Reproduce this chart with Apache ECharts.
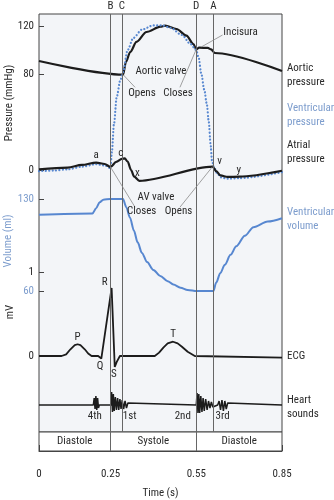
<!DOCTYPE html>
<html>
<head>
<meta charset="utf-8">
<script src="https://cdn.jsdelivr.net/npm/echarts@6/dist/echarts.min.js"></script>
<style>
  html, body { margin: 0; padding: 0; background: #fff; }
  #chart { width: 334px; height: 500px; }
</style>
</head>
<body>
<div id="chart"></div>
<script>
// ---- Cardiac cycle (Wiggers diagram), time in seconds ----
const eventNames = ['B', 'C', 'D', 'A'];
const eventTimes = [0.25, 0.294, 0.55, 0.61];
const phaseNames = ['Diastole', 'Systole', 'Diastole'];
const phaseBounds = [0, 0.25, 0.55, 0.85];
const timeTicks = [0, 0.25, 0.55, 0.85];
const pressureTicks = [0, 80, 120];
const volumeTicks = [60, 130];
const ecgTicks = [0, 1];

// Aortic pressure (mmHg)
const aorticT = [0, 0.294, 0.304, 0.319, 0.341, 0.376, 0.425, 0.441, 0.481, 0.516, 0.54, 0.55, 0.56, 0.59, 0.602, 0.615, 0.85];
const aorticP = [90.8, 79.5, 90, 98.3, 106.7, 115, 119.4, 120.3, 117.5, 111.9, 105, 100.5, 102, 101.7, 100.5, 97.5, 82.5];

// Ventricular pressure (mmHg)
const ventT = [0, 0.05, 0.1, 0.15, 0.2, 0.23, 0.25, 0.255, 0.262, 0.272, 0.284, 0.294, 0.31, 0.33, 0.36, 0.4, 0.43, 0.46, 0.5, 0.53, 0.55, 0.558, 0.568, 0.578, 0.587, 0.594, 0.6, 0.605, 0.612, 0.625, 0.64, 0.66, 0.7, 0.85];
const ventP = [-1, -0.5, 0.5, 2.8, 4.8, 3.8, 1.5, 15, 38, 61, 74.5, 81.5, 100, 110, 117, 120.5, 120.5, 118.5, 112.5, 105, 100, 94, 80, 67, 55, 40, 22, 8, 2, -3.5, -6.5, -7.2, -6.8, -1.8];

// Atrial pressure (mmHg)
const atrialT = [0, 0.1, 0.15, 0.2, 0.23, 0.25, 0.27, 0.29, 0.3, 0.31, 0.322, 0.333, 0.351, 0.607, 0.62, 0.635, 0.66, 0.7, 0.85];
const atrialP = [0.6, 2, 4.2, 6.2, 5, 2.5, 6.7, 9.2, 9.7, 7, 0, -5.6, -9, 2.8, -1, -4.5, -5.8, -5.5, -0.6];

// Ventricular volume (ml)
const volT = [0, 0.187, 0.2, 0.212, 0.225, 0.25, 0.294, 0.305, 0.318, 0.332, 0.345, 0.36, 0.378, 0.4, 0.424, 0.45, 0.47, 0.495, 0.52, 0.552, 0.61, 0.62, 0.634, 0.65, 0.67, 0.69, 0.72, 0.75, 0.8, 0.85];
const volV = [118, 119, 123, 127.5, 129.5, 130, 130, 124, 116, 106, 97, 89, 82, 76, 71.5, 67.5, 65, 62.5, 60.8, 60, 60, 66.5, 73.5, 80, 87.5, 94, 102, 108.5, 112.8, 115.3];

// ECG (mV)
const ecgT = [0, 0.079, 0.095, 0.11, 0.125, 0.135, 0.145, 0.16, 0.172, 0.184, 0.207, 0.218, 0.224, 0.254, 0.265, 0.272, 0.283, 0.405, 0.42, 0.435, 0.45, 0.469, 0.485, 0.5, 0.52, 0.545, 0.85];
const ecgV = [0, 0, 0.02, 0.08, 0.13, 0.14, 0.13, 0.08, 0.03, 0, 0, -0.03, -0.05, 0.81, -0.13, -0.07, 0, 0, 0.04, 0.1, 0.15, 0.17, 0.15, 0.11, 0.05, 0, -0.02];

// Heart sounds (relative amplitude)
const soundT = [0, 0.19, 0.193, 0.196, 0.199, 0.202, 0.205, 0.208, 0.211,
  0.252, 0.254, 0.257, 0.26, 0.263, 0.267, 0.271, 0.275, 0.279, 0.283, 0.287, 0.291, 0.296, 0.301, 0.306, 0.311, 0.315,
  0.55, 0.553, 0.556, 0.559, 0.562, 0.566, 0.57, 0.574, 0.578, 0.583, 0.588, 0.593, 0.598, 0.603, 0.608, 0.612,
  0.625, 0.63, 0.635, 0.64, 0.645, 0.65, 0.655, 0.66, 0.665, 0.85];
const soundV = [0, 0, 7, -4, 9, -5, 7, -3, 0,
  0, 13, -7, 11, -6, 8, -5, 7, -5, 6, -4, 5, -4, 4, -3, 2, 0,
  0, 12, -8, 11, -8, 9, -7, 7, -6, 6, -5, 4, -3, 3, -2, 0,
  0, 4, -5, 5, -6, 4, -4, 2, 0, 0];

// ---- typeface: a narrow, non-bold sans if one is installed ----
function pickFace() {
  const sample = 'Aortic valve Ventricular pressure';
  const target = 132; // width of the sample at 11px in a narrow grotesque
  const c = document.createElement('canvas');
  c.width = 400; c.height = 24;
  const g = c.getContext('2d');
  const width = (font) => { g.font = font; return g.measureText(sample).width; };
  const ink = (font) => {
    g.clearRect(0, 0, c.width, c.height);
    g.font = font; g.fillStyle = '#000'; g.textBaseline = 'middle';
    g.fillText(sample, 2, 12);
    const d = g.getImageData(0, 0, c.width, c.height).data;
    let s = 0;
    for (let i = 3; i < d.length; i += 4) s += d[i];
    return s;
  };
  const faces = [
    ["'Liberation Sans Narrow'", 400], ["'Arial Narrow'", 400],
    ["'Noto Sans SemiCondensed'", 400], ["'Noto Sans Condensed'", 400],
    ["'DejaVu Sans Condensed'", 400], ["'Roboto Condensed'", 400],
    ["'Open Sans SemiCondensed'", 400], ["'Open Sans Condensed'", 300],
    ["Lato", 400], ["Roboto", 400], ["'Liberation Sans'", 400]
  ];
  const ok = [];
  for (const [fam, w] of faces) {
    const a = width(w + ' 11px ' + fam + ', monospace');
    const b = width(w + ' 11px ' + fam + ', serif');
    if (Math.abs(a - b) > 0.01) continue;                 // not installed
    const light = ink(w + ' 11px ' + fam);
    const heavy = ink('700 11px ' + fam);
    if (light > heavy * 0.88) continue;                    // only a bold cut
    ok.push({ family: fam, weight: w, diff: Math.abs(a - target) / target });
  }
  const near = ok.find(f => f.diff < 0.1);
  const best = near || ok.sort((p, q) => p.diff - q.diff)[0] || { family: 'sans-serif', weight: 400 };
  return { family: best.family + ', sans-serif', weight: best.weight };
}
const FACE = pickFace();
const FONT = FACE.family, WEIGHT = FACE.weight;

// ---- layout ----
const INK = '#1c1c1c', TEXT = '#2a2a2a', BLUE = '#5787d0', BLUE_TEXT = '#7d9dcd', RULE = '#666';
const PLOT_TOP = 14, PLOT_BOTTOM = 432, PLOT_LEFT = 39, PLOT_WIDTH = 243;
const txt = (color, extra) => Object.assign({ color: color, fontSize: 11, fontFamily: FONT, fontWeight: WEIGHT }, extra || {});

// Each trace has its own value axis on the shared plot; the range is found from
// two reference values and the pixel rows where they sit.
function axisRange(vA, yA, vB, yB) {
  const k = (yB - yA) / (vB - vA);
  return { min: vA + (PLOT_BOTTOM - yA) / k, max: vA + (PLOT_TOP - yA) / k };
}
const pressureRange = axisRange(0, 170, 120, 26);
const volumeRange = axisRange(60, 291, 130, 199);
const ecgRange = axisRange(0, 356, 1, 272);
const soundRange = axisRange(0, 405, 10, 395);

function valueAxis(range, ticks, color) {
  const show = !!ticks;
  return {
    type: 'value', gridIndex: 0, position: 'left', min: range.min, max: range.max,
    axisLine: { show: false }, splitLine: { show: false },
    axisTick: show ? { show: true, inside: true, length: 5, customValues: ticks, lineStyle: { color: '#444' } } : { show: false },
    axisLabel: show ? txt(color, { show: true, customValues: ticks, margin: 5 }) : { show: false }
  };
}

const zip = (a, b) => a.map((t, i) => [t, b[i]]);
const idx = (arr, t) => arr.indexOf(t);

function pointLabel(coord, text, position, distance, offset) {
  return {
    coord: coord, name: text, symbol: 'circle', symbolSize: 1, itemStyle: { color: 'rgba(0,0,0,0)' },
    label: txt(TEXT, { show: true, position: position, distance: distance, offset: offset || [0, 0], formatter: '{b}' })
  };
}
const markerPoints = (list) => ({ silent: true, symbol: 'circle', symbolSize: 1, animation: false, data: list });

const atrialAt = (t) => [t, atrialP[idx(atrialT, t)]];
const ecgAt = (t) => [t, ecgV[idx(ecgT, t)]];
const aorticAt = (t) => [t, aorticP[idx(aorticT, t)]];

const leader = (a, b) => [{ coord: a }, { coord: b }];
const sideText = (y, text, color) => ({ type: 'text', x: 287, y: y,
  style: { text: text, verticalAlign: 'middle', lineHeight: 14, fill: color, fontSize: 11, fontFamily: FONT, fontWeight: WEIGHT } });
const axisTitle = (x, y, text, color) => ({ type: 'text', x: x, y: y, rotation: Math.PI / 2,
  style: { text: text, align: 'center', verticalAlign: 'middle', fill: color, fontSize: 11, fontFamily: FONT, fontWeight: WEIGHT } });

const option = {
  animation: false,
  textStyle: { fontFamily: FONT, fontWeight: WEIGHT },
  grid: [
    { left: PLOT_LEFT, top: PLOT_TOP, width: PLOT_WIDTH, height: PLOT_BOTTOM - PLOT_TOP,
      show: true, backgroundColor: '#f3f5f8', borderColor: '#444', borderWidth: 1 },
    { left: PLOT_LEFT, top: PLOT_BOTTOM, width: PLOT_WIDTH, height: 20,
      show: true, backgroundColor: '#fff', borderColor: '#444', borderWidth: 1 }
  ],
  xAxis: [
    { type: 'value', gridIndex: 0, min: 0, max: 0.85, show: false },
    { type: 'value', gridIndex: 1, min: 0, max: 0.85, position: 'bottom', offset: 13,
      axisLine: { show: true, lineStyle: { color: '#444', width: 1 } },
      axisTick: { show: true, inside: true, length: 6, customValues: timeTicks, lineStyle: { color: '#444' } },
      axisLabel: txt(TEXT, { customValues: timeTicks, margin: 5 }),
      splitLine: { show: false },
      name: 'Time (s)', nameLocation: 'middle', nameGap: 24,
      nameTextStyle: txt(TEXT) }
  ],
  yAxis: [
    valueAxis(pressureRange, pressureTicks, TEXT),
    valueAxis(volumeRange, volumeTicks, BLUE_TEXT),
    valueAxis(ecgRange, ecgTicks, TEXT),
    valueAxis(soundRange, null),
    { type: 'value', gridIndex: 1, min: 0, max: 1, show: false }
  ],
  series: [
    // event lines B, C, D, A
    { name: 'events', type: 'line', xAxisIndex: 0, yAxisIndex: 0, data: [],
      markLine: { silent: true, symbol: 'none', animation: false,
        lineStyle: { color: RULE, width: 1, type: 'solid' },
        label: txt(TEXT, { show: true, position: 'end', formatter: '{b}', distance: 2 }),
        data: eventNames.map((n, i) => ({ name: n, xAxis: eventTimes[i] })) } },
    // valve annotations
    { name: 'valves', type: 'line', xAxisIndex: 0, yAxisIndex: 0, data: [],
      markLine: { silent: true, symbol: 'none', animation: false,
        lineStyle: { color: '#8a8a8a', width: 0.8, type: 'solid' }, label: { show: false },
        data: [
          leader(aorticAt(0.294), [0.336, 68.9]),
          leader(aorticAt(0.55), [0.493, 68.9]),
          leader([0.569, 102.7], [0.642, 112.5]),
          leader(atrialAt(0.25), [0.336, -31]),
          leader(atrialAt(0.607), [0.493, -31])
        ] },
      markPoint: markerPoints([
        pointLabel([0.4266, 81.9], 'Aortic valve', 'inside', 0),
        pointLabel([0.36, 63.9], 'Opens', 'inside', 0),
        pointLabel([0.486, 63.9], 'Closes', 'inside', 0),
        pointLabel([0.643, 114.4], 'Incisura', 'right', 0),
        pointLabel([0.409, -22.75], 'AV valve', 'inside', 0),
        pointLabel([0.359, -34.75], 'Closes', 'inside', 0),
        pointLabel([0.488, -34.75], 'Opens', 'inside', 0)
      ]) },
    { name: 'Aortic pressure', type: 'line', xAxisIndex: 0, yAxisIndex: 0,
      data: zip(aorticT, aorticP), showSymbol: false, smooth: 0.3, smoothMonotone: 'x',
      lineStyle: { color: INK, width: 2.2 } },
    { name: 'Ventricular pressure', type: 'line', xAxisIndex: 0, yAxisIndex: 0,
      data: zip(ventT, ventP), showSymbol: false, smooth: 0.3, smoothMonotone: 'x',
      lineStyle: { color: BLUE, width: 2.2, type: [0.1, 3.3], cap: 'round' } },
    { name: 'Atrial pressure', type: 'line', xAxisIndex: 0, yAxisIndex: 0,
      data: zip(atrialT, atrialP), showSymbol: false, smooth: 0.3, smoothMonotone: 'x',
      lineStyle: { color: INK, width: 2.2 },
      markPoint: markerPoints([
        pointLabel(atrialAt(0.2), 'a', 'top', 1),
        pointLabel(atrialAt(0.3), 'c', 'top', 0, [-4, 1]),
        pointLabel(atrialAt(0.351), 'x', 'top', 2, [-2, 0]),
        pointLabel(atrialAt(0.607), 'v', 'top', 0, [7, 1]),
        pointLabel(atrialAt(0.66), 'y', 'top', 1, [11, 0])
      ]) },
    { name: 'Ventricular volume', type: 'line', xAxisIndex: 0, yAxisIndex: 1,
      data: zip(volT, volV), showSymbol: false, smooth: 0.3, smoothMonotone: 'x',
      lineStyle: { color: BLUE, width: 2 } },
    { name: 'ECG', type: 'line', xAxisIndex: 0, yAxisIndex: 2,
      data: zip(ecgT, ecgV), showSymbol: false,
      lineStyle: { color: INK, width: 1.8 },
      markPoint: markerPoints([
        pointLabel(ecgAt(0.135), 'P', 'top', 1),
        pointLabel(ecgAt(0.254), 'R', 'top', 0, [-7, 0]),
        pointLabel(ecgAt(0.224), 'Q', 'bottom', 0, [-3, 0]),
        pointLabel(ecgAt(0.265), 'S', 'bottom', 1, [-1, 0]),
        pointLabel(ecgAt(0.469), 'T', 'top', 1)
      ]) },
    { name: 'Heart sounds', type: 'line', xAxisIndex: 0, yAxisIndex: 3,
      data: zip(soundT, soundV), showSymbol: false,
      lineStyle: { color: INK, width: 1.5 },
      markPoint: markerPoints([
        pointLabel([0.195, 0], '4th', 'bottom', 5),
        pointLabel([0.317, 0], '1st', 'bottom', 5),
        pointLabel([0.503, 0], '2nd', 'bottom', 5),
        pointLabel([0.642, 0], '3rd', 'bottom', 5)
      ]) },
    // cardiac phases strip
    { name: 'phases', type: 'line', xAxisIndex: 1, yAxisIndex: 4, data: [],
      markArea: { silent: true, itemStyle: { color: 'rgba(0,0,0,0)' },
        label: txt(TEXT, { show: true, position: 'inside' }),
        data: phaseNames.map((n, i) => [{ name: n, xAxis: phaseBounds[i] }, { xAxis: phaseBounds[i + 1] }]) },
      markLine: { silent: true, symbol: 'none', animation: false, label: { show: false },
        lineStyle: { color: RULE, width: 1, type: 'solid' },
        data: phaseBounds.slice(1, -1).map(t => ({ xAxis: t })) } }
  ],
  graphic: [
    axisTitle(9, 103, 'Pressure (mmHg)', TEXT),
    axisTitle(8, 241, 'Volume (ml)', BLUE_TEXT),
    axisTitle(10, 312, 'mV', TEXT),
    sideText(75, 'Aortic\npressure', TEXT),
    sideText(115.5, 'Ventricular\npressure', BLUE_TEXT),
    sideText(152.5, 'Atrial\npressure', TEXT),
    sideText(219.5, 'Ventricular\nvolume', BLUE_TEXT),
    sideText(356, 'ECG', TEXT),
    sideText(407.5, 'Heart\nsounds', TEXT)
  ]
};

const chart = echarts.init(document.getElementById('chart'), null, { renderer: 'canvas' });
chart.setOption(option);
</script>
</body>
</html>
